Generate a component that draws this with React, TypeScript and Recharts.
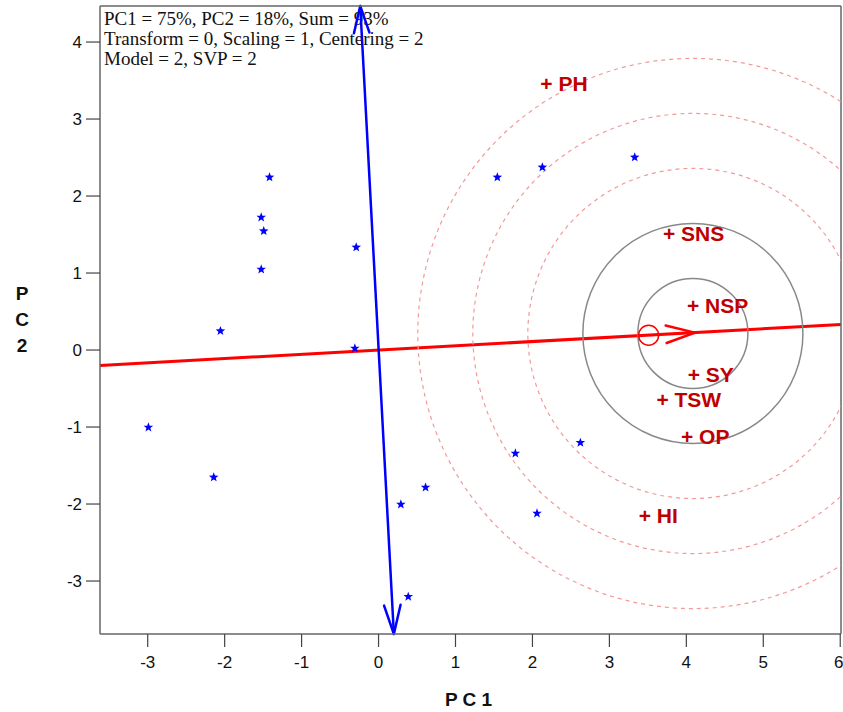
import React from 'react';
import {
  ScatterChart,
  Scatter,
  XAxis,
  YAxis,
  ReferenceLine,
  ReferenceDot,
  Customized,
} from 'recharts';

// genotype scores (blue stars)
const genoPC1 = [-1.417, -1.525, -1.492, -1.525, -2.055, -0.29, -0.308, -2.991, -2.142, 1.544, 2.129, 3.329, 2.623, 1.778, 0.611, 0.29, 2.059, 0.386];
const genoPC2 = [2.243, 1.723, 1.545, 1.048, 0.247, 1.334, 0.022, -1.004, -1.653, 2.243, 2.373, 2.503, -1.203, -1.342, -1.784, -2.004, -2.121, -3.203];

// trait / environment vectors (red labels)
const envNames = ['PH', 'SNS', 'NSP', 'SY', 'TSW', 'OP', 'HI'];
const envPC1 = [2.181, 3.775, 4.087, 4.096, 3.689, 4.009, 3.459];
const envPC2 = [3.455, 1.515, 0.575, -0.312, -0.641, -1.117, -2.143];

const PC1_TICKS = [-3, -2, -1, 0, 1, 2, 3, 4, 5, 6];
const PC2_TICKS = [-3, -2, -1, 0, 1, 2, 3, 4];
const PC1_DOMAIN: [number, number] = [-3.62, 6.01];
const PC2_DOMAIN: [number, number] = [-3.688, 4.468];

// average environment axis and its perpendicular
const atcAbscissa = [{ x: -3.62, y: -0.2 }, { x: 6.01, y: 0.332 }];
const atcOrdinate = [{ x: -0.238, y: 4.468 }, { x: 0.199, y: -3.688 }];
const avgEnv = { x: 3.51, y: 0.192 };
const arrowTip = { x: 4.11, y: 0.226 };
const ideal = { x: 4.085, y: 0.215 };
const solidRings = [0.715, 1.43];
const dashedRings = [2.145, 2.86, 3.575];

const infoLines = [
  'PC1 = 75%, PC2 = 18%, Sum = 93%',
  'Transform = 0, Scaling = 1, Centering = 2',
  'Model = 2, SVP = 2',
];

const W = 843;
const H = 712;
const PLOT_W = 741;
const PX_PER_UNIT = PLOT_W / (PC1_DOMAIN[1] - PC1_DOMAIN[0]);

const genotypes = genoPC1.map((x, i) => ({ x, y: genoPC2[i] }));
const environments = envNames.map((name, i) => ({ name, x: envPC1[i], y: envPC2[i] }));

const sans = 'Liberation Sans, Arial, Helvetica, sans-serif';

function head(tx: number, ty: number, hx: number, hy: number, len: number, ang: number) {
  const d = Math.hypot(hx - tx, hy - ty) || 1;
  const vx = -(hx - tx) / d;
  const vy = -(hy - ty) / d;
  const a = (ang * Math.PI) / 180;
  const pts = [1, -1].map((s) => {
    const rx = vx * Math.cos(a) - vy * Math.sin(a) * s;
    const ry = vx * Math.sin(a) * s + vy * Math.cos(a);
    return [hx + rx * len, hy + ry * len];
  });
  return `M${pts[0][0]},${pts[0][1]} L${hx},${hy} L${pts[1][0]},${pts[1][1]}`;
}

const DoubleArrow = (props: any) => {
  const { x1, y1, x2, y2 } = props;
  return (
    <g stroke="#0000ff" strokeWidth={2.5} fill="none" strokeLinecap="round" strokeLinejoin="round">
      <line x1={x1} y1={y1} x2={x2} y2={y2} />
      <path d={head(x2, y2, x1, y1, 28, 16)} />
      <path d={head(x1, y1, x2, y2, 30, 16)} />
    </g>
  );
};

const Chevron = (props: any) => {
  const { x1, y1, x2, y2 } = props;
  return (
    <path d={head(x1, y1, x2, y2, 30, 17)} stroke="#ff0000" strokeWidth={2.5} fill="none" strokeLinecap="round" />
  );
};

const StarShape = (props: any) => {
  const { cx, cy } = props;
  const pts: string[] = [];
  for (let i = 0; i < 10; i++) {
    const r = i % 2 === 0 ? 5 : 2.1;
    const a = -Math.PI / 2 + (i * Math.PI) / 5;
    pts.push(`${cx + r * Math.cos(a)},${cy + r * Math.sin(a)}`);
  }
  return <polygon points={pts.join(' ')} fill="#0000ff" />;
};

const EnvLabel = (props: any) => {
  const { cx, cy, payload } = props;
  return (
    <text x={cx - 6} y={cy + 7.5} fill="#c00000" fontSize={21} fontWeight="bold" fontFamily={sans}>
      {'+ ' + payload.name}
    </text>
  );
};

const InfoText = () => (
  <g>
    {infoLines.map((t, i) => (
      <text key={t} x={104} y={25 + i * 20} fontSize={19} fill="#111" fontFamily="Liberation Serif, Times New Roman, serif">
        {t}
      </text>
    ))}
  </g>
);

const YLabel = (props: any) => {
  const { viewBox } = props;
  return (
    <text x={viewBox.x + 22} y={300} textAnchor="middle" fontSize={19} fontWeight="bold" fontFamily={sans} fill="#111">
      <tspan x={viewBox.x + 22} dy={0}>P</tspan>
      <tspan x={viewBox.x + 22} dy={26}>C</tspan>
      <tspan x={viewBox.x + 22} dy={26}>2</tspan>
    </text>
  );
};

const XLabel = (props: any) => {
  const { viewBox } = props;
  return (
    <text x={viewBox.x + viewBox.width / 2 - 2} y={706} textAnchor="middle" fontSize={19} fontWeight="bold" fontFamily={sans} fill="#111">
      P C 1
    </text>
  );
};

const tickStyle = { fill: '#111', fontSize: 17, fontFamily: sans };

const App: React.FC = () => {
  return (
    <div style={{ position: 'absolute', left: 0, top: 0, width: W, height: H, background: '#fff' }}>
      <ScatterChart width={W} height={H} margin={{ top: 5, right: 1, bottom: 0, left: 0 }}>
        <XAxis
          type="number"
          dataKey="x"
          domain={PC1_DOMAIN}
          ticks={PC1_TICKS}
          allowDataOverflow
          height={78}
          tick={tickStyle}
          tickSize={13}
          tickMargin={9}
          axisLine={{ stroke: '#666', strokeWidth: 1.5 }}
          tickLine={{ stroke: '#444', strokeWidth: 1.2 }}
          label={{ content: XLabel }}
        />
        <XAxis
          xAxisId="top"
          orientation="top"
          type="number"
          dataKey="x"
          domain={PC1_DOMAIN}
          allowDataOverflow
          height={1}
          tick={false}
          tickLine={false}
          axisLine={{ stroke: '#666', strokeWidth: 1.5 }}
        />
        <YAxis
          type="number"
          dataKey="y"
          domain={PC2_DOMAIN}
          ticks={PC2_TICKS}
          allowDataOverflow
          width={100}
          tick={tickStyle}
          tickSize={14}
          tickMargin={4}
          axisLine={{ stroke: '#666', strokeWidth: 1.5 }}
          tickLine={{ stroke: '#444', strokeWidth: 1.2 }}
          label={{ content: YLabel }}
        />
        <YAxis
          yAxisId="right"
          orientation="right"
          type="number"
          dataKey="y"
          domain={PC2_DOMAIN}
          allowDataOverflow
          width={1}
          tick={false}
          tickLine={false}
          axisLine={{ stroke: '#666', strokeWidth: 1.5 }}
        />

        {dashedRings.map((r) => (
          <ReferenceDot
            key={'d' + r}
            x={ideal.x}
            y={ideal.y}
            r={r * PX_PER_UNIT}
            fill="none"
            stroke="#f29a9a"
            strokeWidth={1.2}
            strokeDasharray="4 4"
            ifOverflow="hidden"
          />
        ))}
        {solidRings.map((r) => (
          <ReferenceDot
            key={'s' + r}
            x={ideal.x}
            y={ideal.y}
            r={r * PX_PER_UNIT}
            fill="none"
            stroke="#888"
            strokeWidth={1.5}
            ifOverflow="hidden"
          />
        ))}

        <ReferenceLine segment={atcAbscissa} stroke="#ff0000" strokeWidth={3} ifOverflow="visible" />
        <ReferenceLine segment={atcOrdinate} ifOverflow="visible" shape={DoubleArrow} />
        <ReferenceLine segment={[avgEnv, arrowTip]} ifOverflow="visible" shape={Chevron} />
        <ReferenceDot x={avgEnv.x} y={avgEnv.y} r={10} fill="none" stroke="#ff0000" strokeWidth={1.5} ifOverflow="visible" />

        <Scatter data={genotypes} shape={StarShape} isAnimationActive={false} />
        <Scatter data={environments} shape={EnvLabel} isAnimationActive={false} />

        <Customized component={InfoText} />
      </ScatterChart>
    </div>
  );
};

export default App;
